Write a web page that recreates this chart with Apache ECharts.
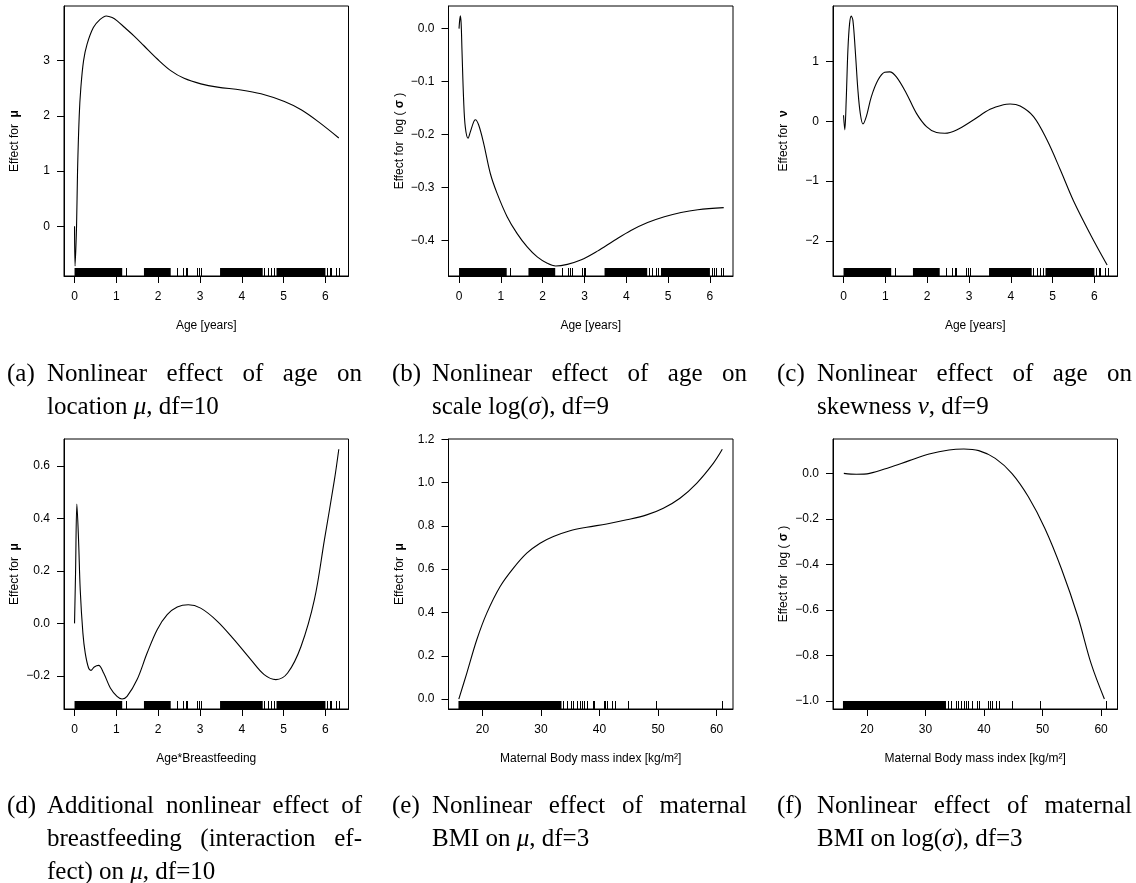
<!DOCTYPE html>
<html><head><meta charset="utf-8">
<script src="https://cdn.jsdelivr.net/npm/echarts@6/dist/echarts.min.js"></script>
<style>html,body{margin:0;padding:0;background:#fff}#c{width:1136px;height:883px}</style>
</head><body><div id="c"></div>
<script>
// ---------- data ----------
const ageTicks = [0, 1, 2, 3, 4, 5, 6];
const bmiTicks = [20, 30, 40, 50, 60];

const yTicksA = [0, 1, 2, 3];
const yTicksB = [-0.4, -0.3, -0.2, -0.1, 0.0];
const yTicksC = [-2, -1, 0, 1];
const yTicksD = [-0.2, 0.0, 0.2, 0.4, 0.6];
const yTicksE = [0.0, 0.2, 0.4, 0.6, 0.8, 1.0, 1.2];
const yTicksF = [-1.0, -0.8, -0.6, -0.4, -0.2, 0.0];

// (a) age -> mu
const curveA = [[0,0],[0.012,-0.72],[0.048,0],[0.072,1],[0.112,2],[0.15,2.5],[0.216,3.0],[0.3,3.3],[0.45,3.6],[0.6,3.74],[0.76,3.81],[0.9,3.78],[1.02,3.72],[1.2,3.6],[1.42,3.45],[1.66,3.27],[1.98,3.03],[2.3,2.82],[2.62,2.68],[3.02,2.58],[3.42,2.52],[3.98,2.47],[4.46,2.4],[5.02,2.26],[5.42,2.11],[5.82,1.9],[6.32,1.6]];
// (b) age -> log(sigma)
const curveB = [[0,0],[0.03,0.024],[0.05,0.01],[0.07,-0.04],[0.11,-0.135],[0.15,-0.186],[0.216,-0.207],[0.27,-0.195],[0.35,-0.176],[0.39,-0.172],[0.47,-0.182],[0.59,-0.217],[0.75,-0.274],[0.91,-0.311],[1.15,-0.355],[1.39,-0.387],[1.63,-0.412],[1.87,-0.431],[2.11,-0.443],[2.31,-0.448],[2.59,-0.445],[2.91,-0.437],[3.31,-0.42],[3.71,-0.4],[4.11,-0.381],[4.51,-0.366],[4.91,-0.355],[5.31,-0.347],[5.71,-0.342],[6.33,-0.338]];
// (c) age -> nu
const curveC = [[0,0.1],[0.03,-0.144],[0.064,0.356],[0.104,1.19],[0.144,1.63],[0.184,1.76],[0.224,1.69],[0.28,1.19],[0.344,0.52],[0.4,0.133],[0.464,-0.044],[0.544,0.078],[0.664,0.41],[0.824,0.69],[0.984,0.82],[1.104,0.828],[1.264,0.744],[1.504,0.467],[1.744,0.133],[1.984,-0.089],[2.224,-0.189],[2.424,-0.2],[2.704,-0.144],[3.104,0.022],[3.504,0.2],[3.824,0.278],[3.984,0.289],[4.224,0.256],[4.544,0.078],[4.864,-0.311],[5.184,-0.811],[5.504,-1.339],[5.904,-1.894],[6.304,-2.406]];
// (d) age*breastfeeding -> mu
const curveD = [[0,0],[0.024,0.19],[0.056,0.454],[0.096,0.318],[0.136,0.128],[0.2,-0.037],[0.256,-0.113],[0.336,-0.17],[0.392,-0.179],[0.472,-0.166],[0.576,-0.16],[0.696,-0.189],[0.856,-0.246],[1.016,-0.278],[1.136,-0.288],[1.256,-0.278],[1.496,-0.214],[1.736,-0.113],[1.976,-0.024],[2.216,0.033],[2.456,0.062],[2.72,0.071],[3.016,0.058],[3.416,0.008],[3.816,-0.062],[4.216,-0.138],[4.536,-0.195],[4.816,-0.214],[5.096,-0.189],[5.416,-0.088],[5.736,0.09],[5.976,0.318],[6.216,0.547],[6.32,0.663]];
// (e) BMI -> mu
const curveE = [[15.96,0.0],[17.33,0.12],[19.03,0.274],[20.74,0.397],[23.02,0.52],[25.29,0.605],[27.57,0.674],[29.84,0.72],[32.12,0.751],[34.96,0.778],[37.81,0.794],[41.22,0.809],[44.64,0.828],[48.05,0.851],[50.9,0.882],[53.74,0.928],[56.59,0.997],[59.43,1.089],[60.97,1.154]];
// (f) BMI -> log(sigma)
const curveF = [[16.05,0.0],[18.19,-0.004],[20.45,0.0],[23.84,0.026],[27.23,0.056],[30.62,0.085],[34.01,0.103],[36.55,0.107],[39.1,0.1],[41.92,0.066],[44.75,0.0],[47.57,-0.103],[50.4,-0.242],[53.22,-0.419],[56.05,-0.631],[58.31,-0.837],[60.56,-0.991]];

// rug: dense stretches of observations and single observations
const rugAgeBlocks = [[0, 1.14], [1.66, 2.3], [3.48, 4.5], [4.83, 6.0]];
const rugAgeTicks = [1.22, 2.46, 2.6, 2.66, 2.7, 2.94, 2.98, 3.02, 4.54, 4.62, 4.71, 4.76, 6.04, 6.1, 6.14, 6.26, 6.32];
const rugBmiBlocks = [[15.9, 33.5]];
const rugBmiTicks = [33.8, 34.4, 35.2, 35.5, 36.1, 36.6, 37.0, 37.3, 37.9, 38.8, 39.1, 40.7, 41.0, 41.3, 42.1, 42.6, 44.8, 49.6, 60.9];

// captions: [label, lines]
const captions = [
  ['(a)', ['Nonlinear effect of age on', 'location {i|μ}, df=10']],
  ['(b)', ['Nonlinear effect of age on', 'scale log({i|σ}), df=9']],
  ['(c)', ['Nonlinear effect of age on', 'skewness {i|ν}, df=9']],
  ['(d)', ['Additional nonlinear effect of', 'breastfeeding (interaction ef-', 'fect) on {i|μ}, df=10']],
  ['(e)', ['Nonlinear effect of maternal', 'BMI on {i|μ}, df=3']],
  ['(f)', ['Nonlinear effect of maternal', 'BMI on log({i|σ}), df=3']]
];

// ---------- layout ----------
const SANS = '"Liberation Sans", Arial, sans-serif';
const SERIF = '"Liberation Serif", "Times New Roman", serif';
const colLeft = [64, 448.5, 833];
const rowTop = [6, 439];
const gW = 284.5, gH = 270;
const capColX = [0, 385, 770];
const capRowY = [374, 806];
const capLineH = 33;
const CAP_FS = 25;

const panels = [
  {c: curveA, xr: [-0.252, 6.552], yr: [-0.90, 3.99], xt: ageTicks, yt: yTicksA, dec: 0, xn: 'Age [years]', yn: 'Effect for  {g|μ}', rb: rugAgeBlocks, rt: rugAgeTicks},
  {c: curveB, xr: [-0.252, 6.552], yr: [-0.467, 0.0427], xt: ageTicks, yt: yTicksB, dec: 1, xn: 'Age [years]', yn: 'Effect for  log ( {g|σ} )', rb: rugAgeBlocks, rt: rugAgeTicks},
  {c: curveC, xr: [-0.252, 6.552], yr: [-2.59, 1.93], xt: ageTicks, yt: yTicksC, dec: 0, xn: 'Age [years]', yn: 'Effect for  {g|ν}', rb: rugAgeBlocks, rt: rugAgeTicks},
  {c: curveD, xr: [-0.252, 6.552], yr: [-0.326, 0.702], xt: ageTicks, yt: yTicksD, dec: 1, xn: 'Age*Breastfeeding', yn: 'Effect for  {g|μ}', rb: rugAgeBlocks, rt: rugAgeTicks},
  {c: curveE, xr: [14.2, 62.8], yr: [-0.046, 1.2015], xt: bmiTicks, yt: yTicksE, dec: 1, xn: 'Maternal Body mass index [kg/m²]', yn: 'Effect for  {g|μ}', rb: rugBmiBlocks, rt: rugBmiTicks},
  {c: curveF, xr: [14.2, 62.8], yr: [-1.035, 0.151], xt: bmiTicks, yt: yTicksF, dec: 1, xn: 'Maternal Body mass index [kg/m²]', yn: 'Effect for  log ( {g|σ} )', rb: rugBmiBlocks, rt: rugBmiTicks}
];

function fmt(v, dec) {
  const s = Number(v).toFixed(dec);
  return s.replace('-', '\u2212');
}

const grid = [], xAxis = [], yAxis = [], series = [];
panels.forEach((p, i) => {
  const col = i % 3, row = Math.floor(i / 3);
  grid.push({left: colLeft[col], top: rowTop[row], width: gW, height: gH, show: true, borderColor: '#000', borderWidth: 1, containLabel: false});
  xAxis.push({
    type: 'value', gridIndex: i, min: p.xr[0], max: p.xr[1],
    name: p.xn, nameLocation: 'middle', nameGap: 44,
    nameTextStyle: {fontFamily: SANS, fontSize: 12, color: '#000'},
    axisLine: {show: true, onZero: false, lineStyle: {color: '#000', width: 1}},
    axisTick: {show: true, length: 7, lineStyle: {color: '#000', width: 1}, customValues: p.xt},
    axisLabel: {show: true, margin: 15, fontFamily: SANS, fontSize: 12, color: '#000', customValues: p.xt, hideOverlap: false, formatter: v => fmt(v, 0)},
    splitLine: {show: false}
  });
  yAxis.push({
    type: 'value', gridIndex: i, min: p.yr[0], max: p.yr[1],
    name: p.yn, nameLocation: 'middle', nameGap: 43, nameRotate: 90,
    nameTextStyle: {fontFamily: SANS, fontSize: 12, color: '#000', rich: {g: {fontFamily: SANS, fontSize: 12, fontWeight: 'bold', color: '#000'}}},
    axisLine: {show: true, onZero: false, lineStyle: {color: '#000', width: 1}},
    axisTick: {show: true, length: 7, lineStyle: {color: '#000', width: 1}, customValues: p.yt},
    axisLabel: {show: true, margin: 14, fontFamily: SANS, fontSize: 12, color: '#000', customValues: p.yt, hideOverlap: false, formatter: v => fmt(v, p.dec)},
    splitLine: {show: false}
  });
  series.push({
    type: 'line', xAxisIndex: i, yAxisIndex: i, data: p.c, showSymbol: false,
    smooth: 0.35, lineStyle: {color: '#000', width: 1.1}, silent: true, animation: false
  });
  const ymin = p.yr[0];
  series.push({
    type: 'custom', xAxisIndex: i, yAxisIndex: i, silent: true, animation: false, clip: false,
    data: p.rb.map(b => [b[0], ymin, b[1]]),
    encode: {x: [0, 2], y: 1},
    renderItem: (params, api) => {
      const a = api.coord([api.value(0), api.value(1)]);
      const b = api.coord([api.value(2), api.value(1)]);
      return {type: 'rect', shape: {x: a[0], y: a[1] - 8, width: Math.max(1, b[0] - a[0]), height: 8}, style: {fill: '#000'}};
    }
  });
  series.push({
    type: 'custom', xAxisIndex: i, yAxisIndex: i, silent: true, animation: false, clip: false,
    data: p.rt.map(x => [x, ymin]),
    encode: {x: 0, y: 1},
    renderItem: (params, api) => {
      const a = api.coord([api.value(0), api.value(1)]);
      const x = Math.round(a[0]) + 0.5;
      return {type: 'line', shape: {x1: x, y1: a[1], x2: x, y2: a[1] - 8}, style: {stroke: '#000', lineWidth: 1}};
    }
  });
});

// captions
const mctx = document.createElement('canvas').getContext('2d');
mctx.font = CAP_FS + 'px ' + SERIF;
const capRich = {i: {fontFamily: SERIF, fontSize: CAP_FS, fontStyle: 'italic', fill: '#000'}};
const graphic = [];
captions.forEach((cp, i) => {
  const col = i % 3, row = Math.floor(i / 3);
  const x0 = capColX[col];
  const left = x0 + 47, right = x0 + 362;
  const y1 = capRowY[row];
  graphic.push({type: 'text', x: x0 + 7, y: y1, style: {text: cp[0], font: CAP_FS + 'px ' + SERIF, fill: '#000', align: 'left', verticalAlign: 'middle'}});
  cp[1].forEach((line, k) => {
    const y = y1 + k * capLineH;
    const last = k === cp[1].length - 1;
    if (!last) {
      const words = line.split(' ');
      const widths = words.map(w => mctx.measureText(w).width);
      const total = widths.reduce((s, w) => s + w, 0);
      const gap = (right - left - total) / (words.length - 1);
      let x = left;
      words.forEach((w, j) => {
        graphic.push({type: 'text', x: x, y: y, style: {text: w, font: CAP_FS + 'px ' + SERIF, fill: '#000', align: 'left', verticalAlign: 'middle'}});
        x += widths[j] + gap;
      });
    } else {
      graphic.push({type: 'text', x: left, y: y, style: {text: line, font: CAP_FS + 'px ' + SERIF, fill: '#000', align: 'left', verticalAlign: 'middle', rich: capRich}});
    }
  });
});

const chart = echarts.init(document.getElementById('c'), null, {renderer: 'canvas'});
chart.setOption({animation: false, backgroundColor: '#fff', grid, xAxis, yAxis, series, graphic});
</script></body></html>
